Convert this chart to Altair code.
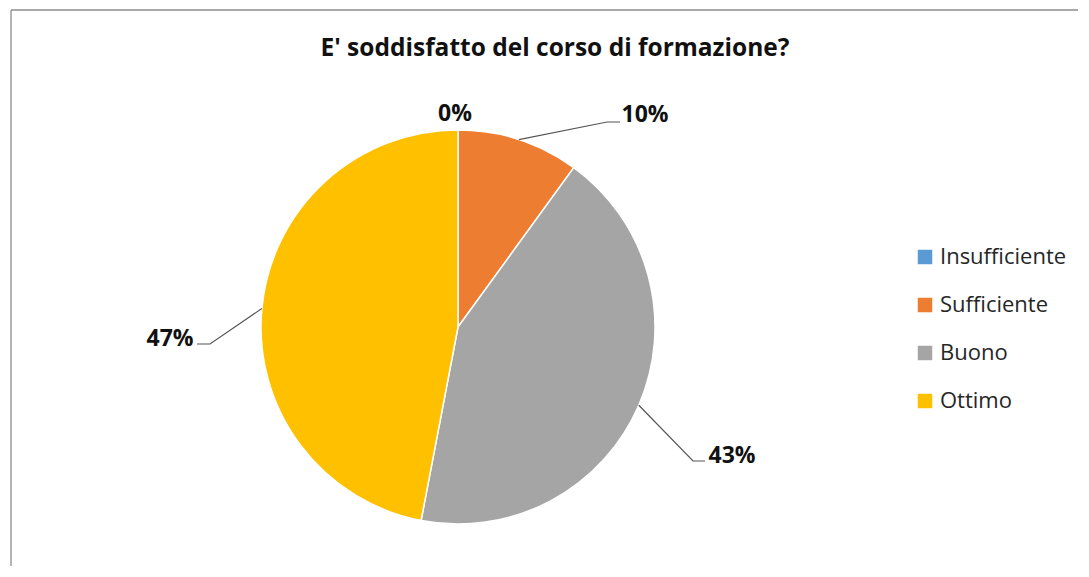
import math
import altair as alt
import pandas as pd

# ---- data ----
TITLE = "E' soddisfatto del corso di formazione?"
categories = ["Insufficiente", "Sufficiente", "Buono", "Ottimo"]
percent = [0, 10, 43, 47]
colors = ["#5B9BD5", "#ED7D31", "#A5A5A5", "#FFC000"]

# ---- layout (plot-area pixels) ----
W, H = 1070, 558
CX, CY, R = 450, 319, 197
FONT = "Open Sans"
# label anchor (center x, baseline y) and leader elbow/end per category
label_pos = {
    "Insufficiente": (447, 113),
    "Sufficiente": (637, 114),
    "Buono": (724, 454.5),
    "Ottimo": (162, 338),
}
leader_pts = {
    "Sufficiente": [(599, 114), (612, 114)],
    "Buono": [(685, 453), (697, 453)],
    "Ottimo": [(202, 336), (189, 336)],
}

df = pd.DataFrame({"cat": categories, "pct": percent, "idx": range(len(categories))})

# labels
lab_rows = []
for c, p in zip(categories, percent):
    lx, ly = label_pos[c]
    lab_rows.append({"cat": c, "text": f"{p}%", "lx": lx, "ly": ly})
df_lab = pd.DataFrame(lab_rows)

# leader lines: start at slice mid-angle on the pie edge
lead_rows = []
cum = 0.0
for c, p in zip(categories, percent):
    mid = (cum + p / 2) / 100 * 2 * math.pi
    cum += p
    if c not in leader_pts:
        continue
    sx = CX + R * math.sin(mid)
    sy = CY - R * math.cos(mid)
    pts = [(sx, sy)] + leader_pts[c]
    for k, (x, y) in enumerate(pts):
        lead_rows.append({"cat": c, "seq": k, "x": x, "y": y})
df_lead = pd.DataFrame(lead_rows)

xs = alt.Scale(domain=[0, W])
ys = alt.Scale(domain=[H, 0])

pie = alt.Chart(df).mark_arc(outerRadius=R, stroke="white", strokeWidth=1.5).encode(
    theta=alt.Theta("pct:Q", stack=True),
    color=alt.Color(
        "cat:N",
        scale=alt.Scale(domain=categories, range=colors),
        sort=categories,
        legend=alt.Legend(
            title=None,
            orient="none",
            legendX=906,
            legendY=238,
            symbolType="square",
            symbolSize=210,
            symbolStrokeWidth=0,
            labelFont=FONT,
            labelFontSize=22,
            labelColor="#262626",
            labelOffset=4,
            rowPadding=26,
            padding=0,
        ),
    ),
    order=alt.Order("idx:Q"),
    x=alt.value(CX),
    y=alt.value(CY),
)

leaders = alt.Chart(df_lead).mark_line(color="#555555", strokeWidth=1.2).encode(
    x=alt.X("x:Q", scale=xs, axis=None),
    y=alt.Y("y:Q", scale=ys, axis=None),
    detail="cat:N",
    order="seq:Q",
)

labels = alt.Chart(df_lab).mark_text(
    font=FONT, fontSize=23, fontWeight="bold", color="#111111",
    align="center", baseline="alphabetic",
).encode(
    x=alt.X("lx:Q", scale=xs, axis=None),
    y=alt.Y("ly:Q", scale=ys, axis=None),
    text="text:N",
)

title = alt.Chart(pd.DataFrame({"t": [TITLE]})).mark_text(
    font=FONT, fontSize=24.5, fontWeight="bold", color="#111111",
    align="center", baseline="alphabetic",
).encode(x=alt.value(547), y=alt.value(48), text="t:N")

one = pd.DataFrame({"a": [0]})
border_left = alt.Chart(one).mark_rule(color="#8c8c8c", strokeWidth=1.3).encode(
    x=alt.value(3), y=alt.value(2), y2=alt.value(H)
)
border_top = alt.Chart(one).mark_rule(color="#8c8c8c", strokeWidth=1.3).encode(
    x=alt.value(3), x2=alt.value(W), y=alt.value(2)
)

chart = alt.layer(border_left, border_top, pie, leaders, labels, title).properties(
    width=W, height=H, autosize=alt.AutoSizeParams(type="none"), padding=0,
    background="white",
).configure_view(stroke=None)

chart.save("out.html", embed_options={"renderer": "svg", "actions": False})
